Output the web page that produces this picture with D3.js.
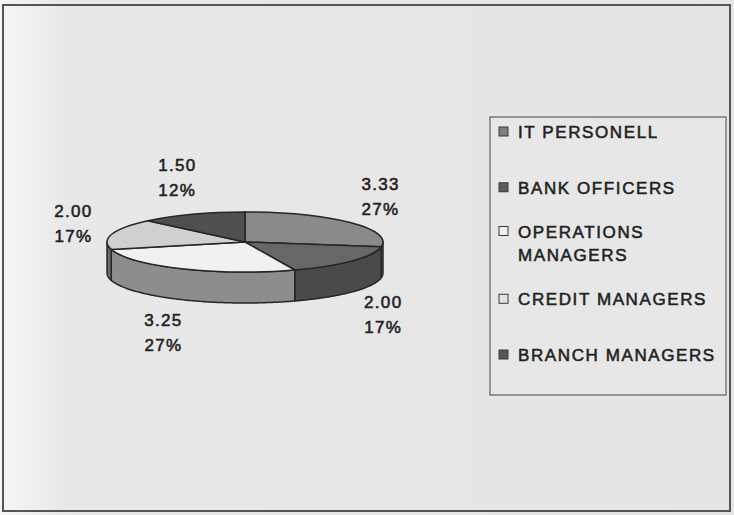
<!DOCTYPE html>
<html>
<head>
<meta charset="utf-8">
<script src="https://cdn.jsdelivr.net/npm/d3@7/dist/d3.min.js"></script>
<style>
  html, body { margin: 0; padding: 0; background: #e6e6e6; }
  svg { display: block; }
  text { font-family: "Liberation Sans", Arial, sans-serif; fill: #222; stroke: #222; stroke-width: 0.55px; }
</style>
</head>
<body>
<svg id="chart" width="734" height="515"></svg>
<script>
// Staff groups and their mean scores
const categories = ["IT PERSONELL", "BANK OFFICERS", "OPERATIONS MANAGERS", "CREDIT MANAGERS", "BRANCH MANAGERS"];
const values = [3.33, 2.00, 3.25, 2.00, 1.50];
const percentLabels = ["27%", "17%", "27%", "17%", "12%"];
const legendLines = [["IT PERSONELL"], ["BANK OFFICERS"], ["OPERATIONS", "MANAGERS"], ["CREDIT MANAGERS"], ["BRANCH MANAGERS"]];

// Grey fills: top face and side wall of each slice
const topColors = ["#8a8a8a", "#676767", "#f1f1f1", "#d0d0d0", "#4f4f4f"];
const sideColors = ["#6c6c6c", "#4a4a4a", "#8d8d8d", "#6a6a6a", "#3c3c3c"];
const swatchColors = ["#7e7e7e", "#5c5c5c", "#eeeeee", "#e4e4e4", "#565656"];

const svg = d3.select("#chart");
const W = 734, H = 515;

// Background with a lighter left margin
const defs = svg.append("defs");
const grad = defs.append("linearGradient").attr("id", "bg").attr("x1", 0).attr("x2", 1).attr("y1", 0).attr("y2", 0);
grad.append("stop").attr("offset", "0").attr("stop-color", "#f6f6f6");
grad.append("stop").attr("offset", "0.09").attr("stop-color", "#e8e8e8");
grad.append("stop").attr("offset", "1").attr("stop-color", "#e5e5e5");
svg.append("rect").attr("width", W).attr("height", H).attr("fill", "url(#bg)");

// Chart frame
svg.append("rect").attr("x", 3).attr("y", 5).attr("width", 727).attr("height", 506)
  .attr("fill", "none").attr("stroke", "#555").attr("stroke-width", 2);

// Pie geometry
const cx = 245, cy = 242, rx = 138, ry = 30, depth = 31;
const pie = d3.pie().sort(null).value(d => d);
const arcs = pie(values);

const px = a => cx + rx * Math.sin(a);
const py = a => cy - ry * Math.cos(a);
const line = d3.line();

// Side walls: only the front half (angles PI/2 .. 3PI/2) is visible
const gSide = svg.append("g");
arcs.forEach((d, i) => {
  const a0 = Math.max(d.startAngle, Math.PI / 2);
  const a1 = Math.min(d.endAngle, 3 * Math.PI / 2);
  if (a1 <= a0) return;
  const steps = d3.range(a0, a1, 0.01).concat([a1]);
  const pts = steps.map(a => [px(a), py(a)])
    .concat(steps.slice().reverse().map(a => [px(a), py(a) + depth]));
  gSide.append("path")
    .attr("d", line(pts) + "Z")
    .attr("fill", sideColors[i])
    .attr("stroke", "#262626")
    .attr("stroke-width", 1.5)
    .attr("stroke-linejoin", "round");
});

// Top faces: circular arcs squashed into an ellipse
const arcGen = d3.arc().innerRadius(0).outerRadius(rx);
svg.append("g")
  .attr("transform", `translate(${cx},${cy}) scale(1,${ry / rx})`)
  .selectAll("path")
  .data(arcs)
  .join("path")
  .attr("d", arcGen)
  .attr("fill", (d, i) => topColors[i])
  .attr("stroke", "#262626")
  .attr("stroke-width", 1.5)
  .attr("vector-effect", "non-scaling-stroke")
  .attr("stroke-linejoin", "round");

// Data labels: value and share, placed outside the slice
const lrx = 178, lry = 70, lowerShift = 28;
const gLab = svg.append("g").attr("font-size", 17).attr("letter-spacing", 1.3).attr("text-anchor", "middle");
arcs.forEach((d, i) => {
  const a = (d.startAngle + d.endAngle) / 2;
  const lx = cx + lrx * Math.sin(a);
  const ly = cy - lry * Math.cos(a) + (Math.cos(a) < 0 ? lowerShift : 0);
  gLab.append("text").attr("x", lx).attr("y", ly - 6.5).text(d3.format(".2f")(values[i]));
  gLab.append("text").attr("x", lx).attr("y", ly + 18.5).text(percentLabels[i]);
});

// Legend
const legX = 490, legY = 117, legW = 236, legH = 278;
svg.append("rect").attr("x", legX).attr("y", legY).attr("width", legW).attr("height", legH)
  .attr("fill", "#e7e7e7").attr("stroke", "#7a7a7a").attr("stroke-width", 1.5);

const legendY = d3.scalePoint().domain(categories).range([132, 355]);
const gLeg = svg.append("g").attr("font-size", 17).attr("letter-spacing", 1.6);
categories.forEach((c, i) => {
  const lines = legendLines[i];
  let yc = legendY(c);
  if (lines.length > 1) yc = legendY(c) - 12;
  gLeg.append("rect")
    .attr("x", 499).attr("y", yc - 5).attr("width", 9).attr("height", 9)
    .attr("fill", swatchColors[i]).attr("stroke", "#3a3a3a").attr("stroke-width", 1);
  lines.forEach((t, j) => {
    gLeg.append("text").attr("x", 518).attr("y", yc + 6 + j * 23).text(t);
  });
});
</script>
</body>
</html>
